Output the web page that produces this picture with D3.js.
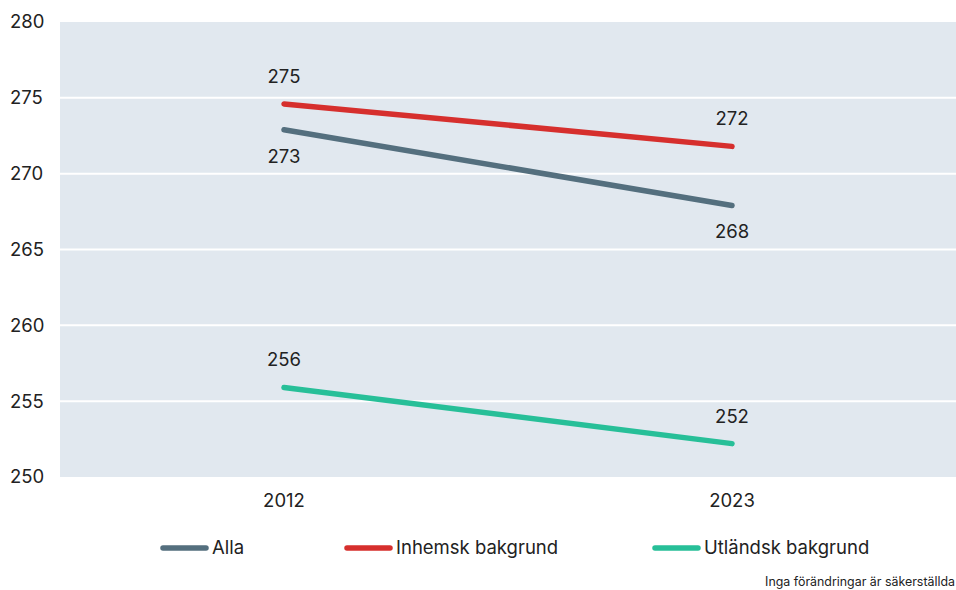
<!DOCTYPE html>
<html><head><meta charset="utf-8">
<script src="https://cdn.jsdelivr.net/npm/d3@7/dist/d3.min.js"></script>
<style>body{margin:0;background:#fff;}svg{display:block;font-family:Inter,"Noto Sans",sans-serif;}</style>
</head><body>
<svg id="c" width="956" height="590"></svg>
<script>
const years = ["2012", "2023"];
const seriesNames = ["Alla", "Inhemsk bakgrund", "Utländsk bakgrund"];
const alla = [272.9, 267.9];
const inhemsk = [274.6, 271.8];
const utlandsk = [255.9, 252.2];
const yTicks = [250, 255, 260, 265, 270, 275, 280];
const footnote = "Inga förändringar är säkerställda";

const colors = ["#546f7e", "#d62f2d", "#27bf98"];
const labelPos = [[1, 1], [-1, -1], [-1, -1]]; // -1 above, 1 below
const series = [alla, inhemsk, utlandsk];

const svg = d3.select("#c");
const L = 60, R = 956, T = 22, B = 477;
const x = d3.scalePoint().domain(years).range([L, R]).padding(0.5);
const y = d3.scaleLinear().domain([250, 280]).range([B, T]);

svg.append("rect").attr("x", L).attr("y", T).attr("width", R - L).attr("height", B - T).attr("fill", "#e1e8ef");

svg.append("g").selectAll("line").data(yTicks.filter(d => d > 250 && d < 280)).join("line")
  .attr("x1", L).attr("x2", R).attr("y1", d => y(d)).attr("y2", d => y(d))
  .attr("stroke", "#fff").attr("stroke-width", 2);

svg.append("g").selectAll("text").data(yTicks).join("text")
  .attr("x", 10).attr("y", d => y(d)).attr("dy", "0.35em")
  .attr("font-size", 18.5).attr("fill", "#222").text(d => d);

svg.append("g").selectAll("text").data(years).join("text")
  .attr("x", d => x(d)).attr("y", 501).attr("dy", "0.35em").attr("text-anchor", "middle")
  .attr("font-size", 18.5).attr("fill", "#222").text(d => d);

const line = d3.line().x((d, i) => x(years[i])).y(d => y(d));
series.forEach((s, k) => {
  svg.append("path").attr("d", line(s)).attr("fill", "none")
    .attr("stroke", colors[k]).attr("stroke-width", 5.5).attr("stroke-linecap", "round");
  s.forEach((v, i) => {
    svg.append("text").attr("x", x(years[i])).attr("y", y(v) + labelPos[k][i] * 27 - 0.5)
      .attr("dy", "0.35em").attr("text-anchor", "middle").attr("font-size", 18.5).attr("fill", "#222")
      .text(Math.round(v));
  });
});

const legX = [161, 345, 653];
seriesNames.forEach((n, k) => {
  svg.append("line").attr("x1", legX[k] + 2).attr("x2", legX[k] + 45).attr("y1", 548).attr("y2", 548)
    .attr("stroke", colors[k]).attr("stroke-width", 5.5).attr("stroke-linecap", "round");
  svg.append("text").attr("x", legX[k] + 51).attr("y", 548).attr("dy", "0.35em")
    .attr("font-size", 18.5).attr("fill", "#222").text(n);
});

svg.append("text").attr("x", 955).attr("y", 582).attr("dy", "0.35em").attr("text-anchor", "end")
  .attr("font-size", 12.4).attr("fill", "#222").text(footnote);
</script>
</body></html>
